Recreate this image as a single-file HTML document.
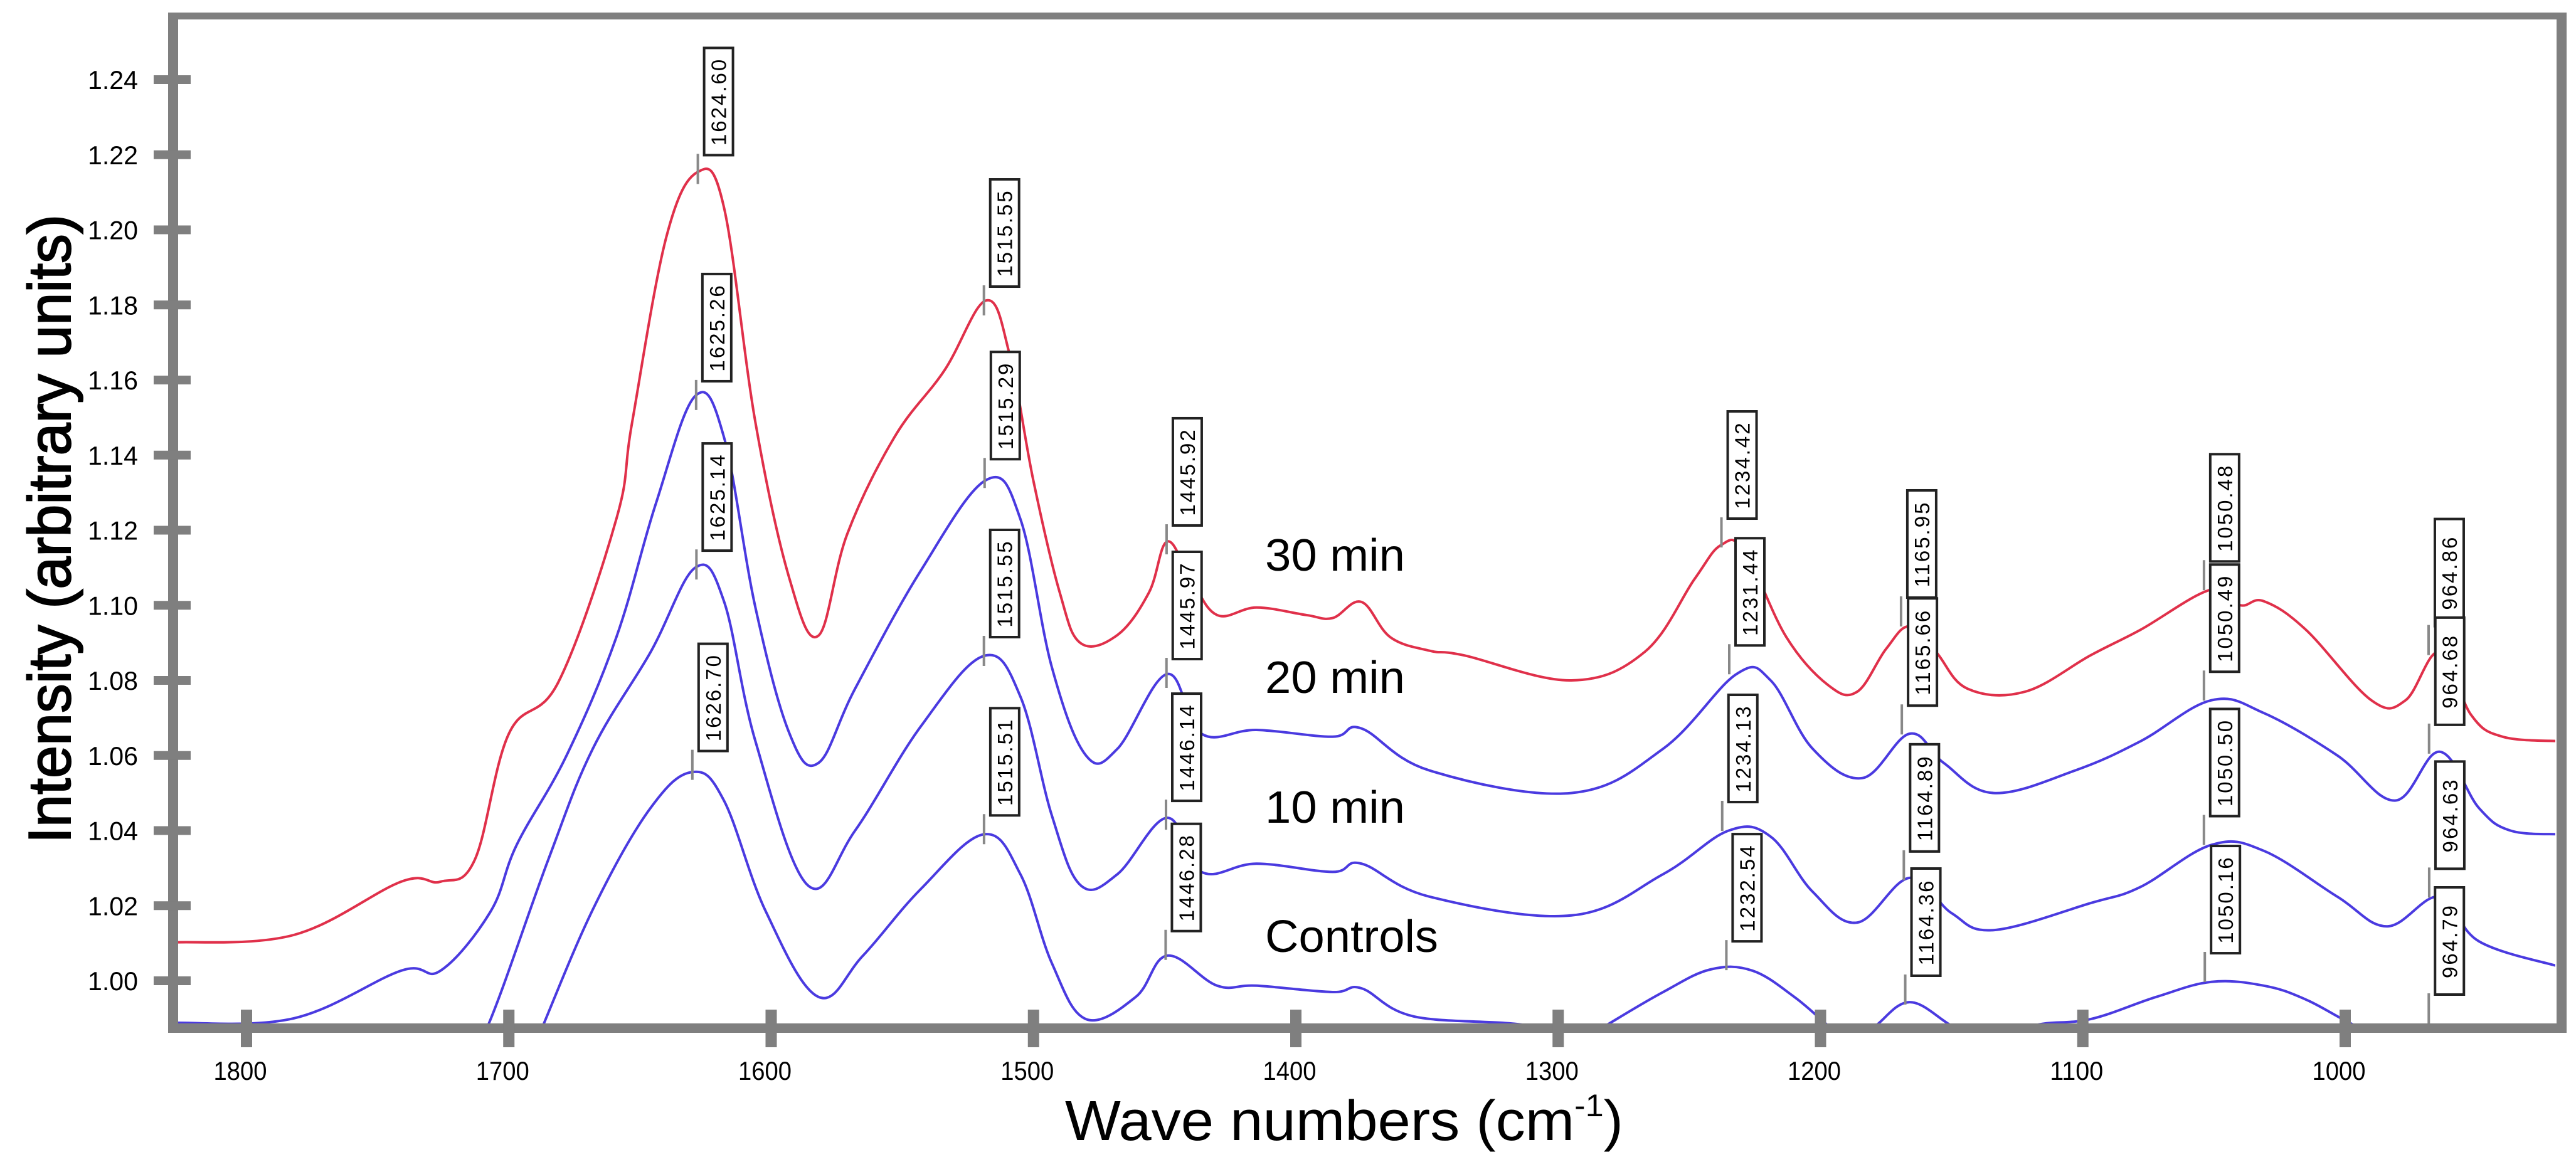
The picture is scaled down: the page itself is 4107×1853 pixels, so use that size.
<!DOCTYPE html>
<html><head><meta charset="utf-8"><style>
html,body{margin:0;padding:0;background:#fff;}
svg{display:block;}
text{font-family:"Liberation Sans",sans-serif;}
</style></head><body>
<svg id="chart" width="4107" height="1853" viewBox="0 0 4107 1853" xmlns="http://www.w3.org/2000/svg">
<defs><clipPath id="plotclip"><rect x="284" y="30" width="3790" height="1602"/></clipPath></defs>
<rect x="0" y="0" width="4107" height="1853" fill="#fff"/>
<g id="curves" clip-path="url(#plotclip)"></g>
<g id="labels"></g>
<g id="axes"></g>
<text x="2017" y="910" font-size="72" textLength="223" lengthAdjust="spacingAndGlyphs">30 min</text>
<text x="2017" y="1105" font-size="72" textLength="223" lengthAdjust="spacingAndGlyphs">20 min</text>
<text x="2017" y="1312" font-size="72" textLength="223" lengthAdjust="spacingAndGlyphs">10 min</text>
<text x="2017" y="1518" font-size="72" textLength="276" lengthAdjust="spacingAndGlyphs">Controls</text>
<text x="1698" y="1818" font-size="90" textLength="890" lengthAdjust="spacingAndGlyphs">Wave numbers (cm<tspan font-size="50" dy="-38">-1</tspan><tspan dy="38">)</tspan></text>
<text transform="translate(112,1345) rotate(-90)" x="0" y="0" font-size="96" stroke="#000" stroke-width="2" textLength="1003" lengthAdjust="spacingAndGlyphs">Intensity (arbitrary units)</text>
</svg>
<script>
const seriesNames = ["30 min","20 min","10 min","Controls"];
const seriesColors = ["#e0304a","#4a3ae0","#4a3ae0","#4a3ae0"];
const wn30 = [1828,1782,1741,1726,1713,1700,1681,1659,1653,1640,1628,1618,1606,1593,1582,1571,1553,1534,1518,1509,1500,1490,1482,1468,1456,1449,1440,1430,1415,1396,1386,1375,1364,1349,1336,1295,1267,1248,1238,1229,1213,1197,1186,1175,1166,1156,1144,1122,1097,1078,1051,1040,1031,1015,990,977,964,952,940,918];
const val30 = [1.0102,1.0122,1.0264,1.0264,1.0322,1.0658,1.0797,1.123,1.1487,1.198,1.2154,1.206,1.1487,1.107,1.0919,1.119,1.1448,1.1625,1.1812,1.1665,1.133,1.1034,1.0899,1.0921,1.1034,1.117,1.107,1.0974,1.0994,1.0974,1.0966,1.1009,1.0915,1.0879,1.0867,1.080,1.0876,1.107,1.116,1.1145,1.0915,1.0787,1.077,1.0884,1.0944,1.0876,1.0778,1.077,1.0867,1.0935,1.1042,1.100,1.1011,1.0935,1.0747,1.0747,1.0876,1.0708,1.065,1.0638];
const wn20 = [1828,1782,1741,1726,1707,1697,1678,1659,1644,1629,1618,1606,1593,1582,1568,1543,1518,1505,1493,1480,1468,1449,1436,1415,1386,1375,1349,1295,1260,1232,1219,1203,1184,1166,1153,1134,1103,1078,1051,1031,1003,981,964,949,937,918];
const val20 = [0.9888,0.990,1.0027,1.0027,1.0184,1.0362,1.060,1.0915,1.127,1.1557,1.1448,1.0994,1.0658,1.058,1.0778,1.1092,1.1334,1.123,1.0835,1.060,1.0618,1.0817,1.0658,1.0668,1.065,1.0672,1.056,1.050,1.0618,1.0817,1.080,1.0618,1.054,1.0658,1.058,1.050,1.056,1.0638,1.0747,1.0713,1.060,1.048,1.061,1.046,1.040,1.039];
const wn10 = [1828,1720,1708,1685,1668,1646,1629,1618,1606,1586,1568,1543,1519,1505,1493,1482,1468,1449,1436,1415,1386,1375,1349,1295,1260,1235,1219,1203,1186,1166,1150,1134,1097,1078,1051,1031,1003,984,964,949,918];
const val10 = [0.96,0.975,0.988,1.0322,1.0618,1.0875,1.110,1.1011,1.0638,1.0254,1.040,1.0677,1.0865,1.0757,1.044,1.0254,1.0284,1.0434,1.029,1.0312,1.029,1.0312,1.0224,1.0174,1.0284,1.040,1.0384,1.0237,1.0155,1.0274,1.018,1.0135,1.0207,1.025,1.0362,1.0346,1.0224,1.0145,1.0224,1.0105,1.0037];
const wnC = [1828,1700,1687,1667,1646,1630,1618,1602,1582,1565,1543,1519,1505,1493,1480,1461,1449,1430,1415,1386,1375,1355,1311,1296,1282,1260,1242,1226,1210,1197,1188,1179,1166,1150,1135,1119,1097,1072,1051,1031,1015,996,975,918];
const valC = [0.95,0.965,0.988,1.0204,1.046,1.0556,1.048,1.0184,0.9957,1.0067,1.0244,1.039,1.0284,1.0047,0.9898,0.9957,1.0067,0.9987,0.9987,0.997,0.998,0.9905,0.988,0.982,0.988,0.997,1.003,1.0027,0.9957,0.988,0.983,0.988,0.9943,0.988,0.982,0.988,0.9898,0.9957,0.9997,0.9987,0.995,0.988,0.982,0.975];
const seriesWn = [wn30,wn20,wn10,wnC];
const seriesVal = [val30,val20,val10,valC];
const labelWn = [1624.60,1515.55,1445.92,1234.42,1165.95,1050.48,964.86, 1625.26,1515.29,1445.97,1231.44,1165.66,1050.49,964.68, 1625.14,1515.55,1446.14,1234.13,1164.89,1050.50,964.63, 1626.70,1515.51,1446.28,1232.54,1164.36,1050.16,964.79];
const labelText = ["1624.60","1515.55","1445.92","1234.42","1165.95","1050.48","964.86","1625.26","1515.29","1445.97","1231.44","1165.66","1050.49","964.68","1625.14","1515.55","1446.14","1234.13","1164.89","1050.50","964.63","1626.70","1515.51","1446.28","1232.54","1164.36","1050.16","964.79"];
const labelSeries = [0,0,0,0,0,0,0,1,1,1,1,1,1,1,2,2,2,2,2,2,2,3,3,3,3,3,3,3];
const xTicks = [1800,1700,1600,1500,1400,1300,1200,1100,1000];
const yTicks = [1.00,1.02,1.04,1.06,1.08,1.10,1.12,1.14,1.16,1.18,1.20,1.22,1.24];

const NS = "http://www.w3.org/2000/svg";
function xS(w){ return 393 + (1800 - w) * 4.1825; }
function yS(v){ return 1564 - (v - 1) * 5987.5; }
function mk(tag, parent){ const e = document.createElementNS(NS, tag); parent.appendChild(e); return e; }
function interp(ws, vs, w){
  for (let i = 0; i < ws.length - 1; i++){
    if (w <= ws[i] && w >= ws[i+1]){ const t = (ws[i] - w) / (ws[i] - ws[i+1]); return vs[i] + t * (vs[i+1] - vs[i]); }
  }
  return vs[vs.length-1];
}
function smoothPath(pts){
  let d = 'M' + pts[0][0].toFixed(1) + ' ' + pts[0][1].toFixed(1);
  const k = 0.18;
  for (let i = 0; i < pts.length - 1; i++){
    const p0 = pts[Math.max(0, i-1)], p1 = pts[i], p2 = pts[i+1], p3 = pts[Math.min(pts.length-1, i+2)];
    const c1x = p1[0] + (p2[0]-p0[0])*k, c1y = p1[1] + (p2[1]-p0[1])*k;
    const c2x = p2[0] - (p3[0]-p1[0])*k, c2y = p2[1] - (p3[1]-p1[1])*k;
    d += ' C' + c1x.toFixed(1) + ' ' + c1y.toFixed(1) + ' ' + c2x.toFixed(1) + ' ' + c2y.toFixed(1) + ' ' + p2[0].toFixed(1) + ' ' + p2[1].toFixed(1);
  }
  return d;
}
const curves = document.getElementById('curves');
seriesWn.forEach((ws, s) => {
  const p = mk('path', curves);
  
  
  p.setAttribute('d', smoothPath(ws.map((w, i) => [xS(w), yS(seriesVal[s][i])])));
  p.setAttribute('fill', 'none');
  p.setAttribute('stroke', seriesColors[s]);
  p.setAttribute('stroke-width', '4');
  p.setAttribute('stroke-linejoin', 'round');
});
const labels = document.getElementById('labels');
labelWn.forEach((w, i) => {
  const s = labelSeries[i];
  const x = xS(w) - 14;
  let py = yS(interp(seriesWn[s], seriesVal[s], w));
  if (py > 1632) py = 1632;
  const bb = py - 46;
  const g = mk('g', labels);
  
  
  const ln = mk('line', g);
  ln.setAttribute('x1', x); ln.setAttribute('x2', x); ln.setAttribute('y1', py); ln.setAttribute('y2', bb - 2);
  ln.setAttribute('stroke', '#888'); ln.setAttribute('stroke-width', '4');
  const r = mk('rect', g);
  r.setAttribute('x', x + 10); r.setAttribute('y', bb - 171); r.setAttribute('width', 46); r.setAttribute('height', 171);
  r.setAttribute('fill', '#fff'); r.setAttribute('stroke', '#222'); r.setAttribute('stroke-width', '4');
  const t = mk('text', g);
  t.setAttribute('transform', 'translate(' + (x + 45) + ',' + (bb - 85.5) + ') rotate(-90)');
  t.setAttribute('text-anchor', 'middle');
  t.setAttribute('font-size', '33');
  t.setAttribute('letter-spacing', '3');
  t.textContent = labelText[i];
});
const axes = document.getElementById('axes');
function rect(x, y, w, h, name){
  const r = mk('rect', axes);
  r.setAttribute('x', x); r.setAttribute('y', y); r.setAttribute('width', w); r.setAttribute('height', h);
  r.setAttribute('fill', '#7f7f7f');
  
  
}
rect(268, 20, 3824, 11, 'top-border');
rect(4076, 20, 16, 1627, 'right-border');
rect(268, 20, 16, 1627, 'y-axis-line');
rect(268, 1632, 3824, 15, 'x-axis-line');
yTicks.forEach(v => {
  const y = yS(v);
  rect(245, y - 7, 59, 14, 'y-tick');
  const t = mk('text', axes);
  t.setAttribute('x', 220); t.setAttribute('y', y + 15);
  t.setAttribute('text-anchor', 'end'); t.setAttribute('font-size', '42');
  t.setAttribute('textLength', '80'); t.setAttribute('lengthAdjust', 'spacingAndGlyphs');
  
  
  t.textContent = v.toFixed(2);
});
xTicks.forEach(w => {
  const x = xS(w);
  rect(x - 9, 1610, 18, 60, 'x-tick');
  const t = mk('text', axes);
  t.setAttribute('x', x - 10); t.setAttribute('y', 1722);
  t.setAttribute('text-anchor', 'middle'); t.setAttribute('font-size', '42');
  t.setAttribute('textLength', String(w >= 1000 ? 85 : 64)); t.setAttribute('lengthAdjust', 'spacingAndGlyphs');
  
  
  t.textContent = String(w);
});
</script>
</body></html>
